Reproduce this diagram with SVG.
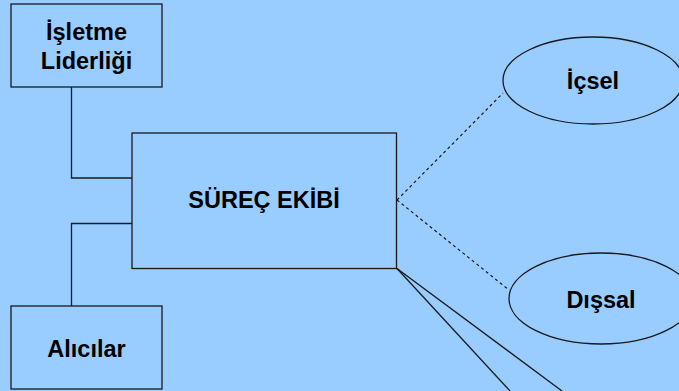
<svg xmlns="http://www.w3.org/2000/svg" width="679" height="391" viewBox="0 0 679 391">
<style>
.box{fill:#99CCFF;stroke:#1a1a1a;stroke-width:1.3}
.lbl{font-family:"Liberation Sans",Arial,sans-serif;font-weight:bold;font-size:23.5px;fill:#000;text-anchor:middle}
.ln{fill:none;stroke:#1a1a1a;stroke-width:1.3}
.dash{fill:none;stroke:#1a1a1a;stroke-width:1.2;stroke-dasharray:3,3}
</style>
<rect x="0" y="0" width="679" height="391" fill="#99CCFF"/>
<g id="connectors">
<polyline class="ln" points="71.5,87 71.5,178 132,178"/>
<polyline class="ln" points="71.5,306 71.5,223.5 132,223.5"/>
<line class="dash" x1="397" y1="200" x2="503" y2="93"/>
<line class="dash" x1="397" y1="200" x2="509" y2="290"/>
<line class="ln" x1="397" y1="268.5" x2="510" y2="391"/>
<line class="ln" x1="397" y1="268.5" x2="562" y2="391"/>
</g>
<g id="isletme">
<rect class="box" x="11" y="4" width="151" height="83"/>
<text class="lbl" x="86.5" y="39.5">İşletme</text>
<text class="lbl" x="86.5" y="68.5">Liderliği</text>
</g>
<g id="surec">
<rect class="box" x="132" y="133" width="264.5" height="135.5"/>
<text class="lbl" x="264" y="207.5">SÜREÇ EKİBİ</text>
</g>
<g id="alicilar">
<rect class="box" x="11" y="306" width="151" height="83"/>
<text class="lbl" x="86.5" y="357">Alıcılar</text>
</g>
<g id="icsel">
<ellipse class="box" cx="593" cy="80.5" rx="90" ry="43.5"/>
<text class="lbl" x="593" y="89">İçsel</text>
</g>
<g id="dissal">
<ellipse class="box" cx="601" cy="298.5" rx="92" ry="45.5"/>
<text class="lbl" x="601" y="307.5">Dışsal</text>
</g>
</svg>
